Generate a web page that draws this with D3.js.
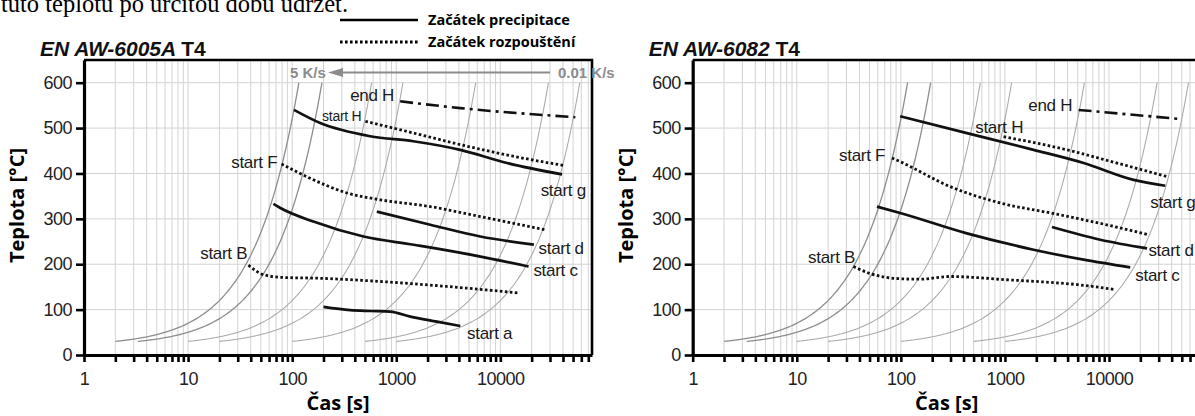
<!DOCTYPE html>
<html>
<head>
<meta charset="utf-8">
<script src="https://cdn.jsdelivr.net/npm/d3@7"></script>
<style>
  html, body { margin: 0; padding: 0; background: #fff; }
  svg { display: block; }
</style>
</head>
<body>
<svg id="chart" width="1195" height="416"></svg>
<script>
// ---- axis values ----
const tempTicks = [0, 100, 200, 300, 400, 500, 600];
const timeDecades = [1, 10, 100, 1000, 10000];
const timeTickLabels = ["1", "10", "100", "1000", "10000"];
const timeMax = 76000;
const tempMax = 650;

// ---- constant-rate cooling curves: time at 30 °C and rate in K/s ----
const coolStart = [2, 3.3, 10, 20, 100, 500, 1000];
const coolRate = [5, 3, 1, 0.5, 0.1, 0.02, 0.01];
const coolLow = 30, coolHigh = 600;

// ---- EN AW-6005A T4 : [time s, temperature °C] ----
const a05StartG = [[104, 540], [186, 511], [562, 482], [1456, 471], [4125, 452], [11600, 423], [39200, 398]];
const a05StartH = [[505, 515], [1470, 489], [4800, 460], [13300, 438], [42200, 417]];
const a05EndH = [[1090, 559], [4125, 544], [52600, 524]];
const a05StartF = [[79, 421], [160, 386], [336, 357], [702, 342], [2125, 327], [6420, 305], [27100, 276]];
const a05StartD = [[651, 316], [2125, 287], [6420, 261], [21000, 243]];
const a05StartC = [[66, 333], [77, 324], [160, 294], [485, 261], [1470, 243], [4440, 224], [18700, 195]];
const a05StartB = [[38, 198], [53, 177], [80, 171], [186, 169], [700, 162], [3070, 151], [14600, 137]];
const a05StartA = [[200, 106], [361, 99], [562, 97], [875, 95.5], [1365, 84.5], [2460, 73.5], [4125, 64]];

// ---- EN AW-6082 T4 ----
const a82StartG = [[98.5, 526], [431, 489], [1885, 452], [5700, 423], [17200, 386], [34700, 373]];
const a82StartH = [[970, 481], [3950, 452], [11900, 423], [36100, 393]];
const a82EndH = [[5100, 540], [48500, 520]];
const a82StartF = [[82, 434], [98.5, 426], [298, 371], [900, 335], [2730, 313], [8240, 290], [24000, 265]];
const a82StartD = [[2830, 282], [8240, 254], [23200, 235]];
const a82StartC = [[59, 327], [98.5, 313], [431, 268], [1885, 232], [5700, 210], [16000, 193]];
const a82StartB = [[35, 195], [50, 180], [100, 168], [150, 167], [300, 173], [500, 171], [1000, 166], [2000, 162], [5000, 155], [11500, 144]];

// ---- text ----
const headerText = "tuto teplotu po určitou dobu udržet.";
const legendLabels = ["Začátek precipitace", "Začátek rozpouštění"];
const xTitle = "Čas [s]";
const yTitle = "Teplota [°C]";

const panels = [
  {
    alloy: "EN AW-6005A", temper: "T4",
    curves: [
      { data: a05StartG, style: "solid" }, { data: a05StartH, style: "dot" },
      { data: a05EndH, style: "dashdot" }, { data: a05StartF, style: "dot" },
      { data: a05StartD, style: "solid" }, { data: a05StartC, style: "solid" },
      { data: a05StartB, style: "dot" }, { data: a05StartA, style: "solid" }
    ],
    labels: [
      { text: "start H", t: 194, T: 516, size: 14 },
      { text: "end H", t: 361, T: 560, size: 17 },
      { text: "start F", t: 72, T: 412, size: 17, anchor: "end" },
      { text: "start g", t: 24400, T: 351, size: 17 },
      { text: "start d", t: 23300, T: 223, size: 17 },
      { text: "start c", t: 20800, T: 174, size: 17 },
      { text: "start B", t: 37, T: 212, size: 17, anchor: "end" },
      { text: "start a", t: 4790, T: 35, size: 17 }
    ],
    rateNote: true
  },
  {
    alloy: "EN AW-6082", temper: "T4",
    curves: [
      { data: a82StartG, style: "solid" }, { data: a82StartH, style: "dot" },
      { data: a82EndH, style: "dashdot" }, { data: a82StartF, style: "dot" },
      { data: a82StartD, style: "solid" }, { data: a82StartC, style: "solid" },
      { data: a82StartB, style: "dot" }
    ],
    labels: [
      { text: "start F", t: 70.6, T: 428, size: 17, anchor: "end" },
      { text: "start B", t: 36.3, T: 203, size: 17, anchor: "end" },
      { text: "start H", t: 518, T: 490, size: 17 },
      { text: "end H", t: 1675, T: 538, size: 17 },
      { text: "start g", t: 24900, T: 324, size: 17 },
      { text: "start d", t: 23900, T: 218, size: 17 },
      { text: "start c", t: 17900, T: 163, size: 17 }
    ],
    rateNote: false
  }
];

// ---- layout ----
const plotLeft = [84, 692.7];
const plotTop = 60, plotH = 295, plotW = 508;
const sans = "'Liberation Sans', Arial, sans-serif";
const bold = "'Open Sans', 'DejaVu Sans', sans-serif";

const svg = d3.select("#chart");

svg.append("text")
  .attr("x", 1).attr("y", 12)
  .attr("font-family", "'Liberation Serif', 'Times New Roman', serif")
  .attr("font-size", 24.5)
  .attr("fill", "#000")
  .text(headerText);

// legend
const styleOf = {
  solid: { dash: null, width: 2.7 },
  dot: { dash: "2.6,2.4", width: 2.8 },
  dashdot: { dash: "13,5,3,5", width: 2.6 }
};
const legendG = svg.append("g");
["solid", "dot"].forEach((s, i) => {
  const yy = 20 + i * 22;
  legendG.append("line")
    .attr("x1", 340).attr("x2", 418).attr("y1", yy).attr("y2", yy)
    .attr("stroke", "#000").attr("stroke-width", styleOf[s].width)
    .attr("stroke-dasharray", styleOf[s].dash);
  legendG.append("text")
    .attr("x", 428).attr("y", yy + 5)
    .attr("font-family", bold).attr("font-weight", 700).attr("font-size", 14.5)
    .attr("fill", "#000")
    .text(legendLabels[i]);
});

const x0 = d3.scaleLog().domain([1, timeMax]).range([0, plotW]);
const y = d3.scaleLinear().domain([0, tempMax]).range([plotH, 0]);

// all 1..9 multiples inside the domain
const minorTimes = [];
timeDecades.forEach(d => { for (let m = 1; m <= 9; m++) if (m * d <= timeMax) minorTimes.push(m * d); });

panels.forEach((p, pi) => {
  const g = svg.append("g").attr("transform", `translate(${plotLeft[pi]},${plotTop})`);
  const x = x0;

  // grid
  g.append("g").selectAll("line").data(minorTimes.filter(v => v > 1)).join("line")
    .attr("x1", d => x(d)).attr("x2", d => x(d)).attr("y1", 0).attr("y2", plotH)
    .attr("stroke", "#d3d3d3").attr("stroke-width", 1);
  g.append("g").selectAll("line").data(tempTicks.filter(v => v > 0)).join("line")
    .attr("x1", 0).attr("x2", plotW).attr("y1", d => y(d)).attr("y2", d => y(d))
    .attr("stroke", "#d3d3d3").attr("stroke-width", 1);

  // cooling curves
  const coolLine = d3.line().x(d => x(d[0])).y(d => y(d[1])).curve(d3.curveMonotoneX);
  coolStart.forEach((t0, i) => {
    const r = coolRate[i];
    const span = (coolHigh - coolLow) / r;
    const pts = [[t0, coolLow]];
    for (let k = 0; k <= 120; k++) {
      const dt = span * Math.pow(10, -3 + 3 * k / 120);
      pts.push([t0 + dt, coolLow + r * dt]);
    }
    g.append("path").attr("d", coolLine(pts)).attr("fill", "none")
      .attr("stroke", i < 2 ? "#8e8e8e" : "#a9a9a9")
      .attr("stroke-width", i < 2 ? 1.3 : 1.05);
  });

  // transformation curves
  const line = d3.line().x(d => x(d[0])).y(d => y(d[1])).curve(d3.curveMonotoneX);
  p.curves.forEach(c => {
    const st = styleOf[c.style];
    g.append("path").attr("d", line(c.data)).attr("fill", "none")
      .attr("stroke", "#111").attr("stroke-width", st.width)
      .attr("stroke-dasharray", st.dash);
  });

  // curve labels
  p.labels.forEach(l => {
    g.append("text")
      .attr("x", x(l.t)).attr("y", y(l.T))
      .attr("text-anchor", l.anchor || "start")
      .attr("font-family", sans).attr("font-size", l.size)
      .attr("letter-spacing", -0.3)
      .attr("fill", "#1a1a1a")
      .text(l.text);
  });

  // frame (top / right)
  g.append("path")
    .attr("d", `M0,0H${plotW}V${plotH}`)
    .attr("fill", "none").attr("stroke", "#000").attr("stroke-width", 2.6);

  // axes
  const xAxis = d3.axisBottom(x).tickValues(minorTimes).tickSize(7).tickSizeOuter(0).tickPadding(10)
    .tickFormat(d => { const i = timeDecades.indexOf(d); return i >= 0 ? timeTickLabels[i] : ""; });
  const xg = g.append("g").attr("transform", `translate(0,${plotH})`).call(xAxis);
  const yAxis = d3.axisLeft(y).tickValues(tempTicks).tickSize(8).tickSizeOuter(0).tickPadding(4);
  const yg = g.append("g").call(yAxis);
  [xg, yg].forEach(ax => {
    ax.select(".domain").attr("stroke", "#000").attr("stroke-width", 3.2);
    ax.selectAll(".tick line").attr("stroke", "#000").attr("stroke-width", 2.6);
    ax.selectAll(".tick text").attr("font-family", sans).attr("font-size", 18)
      .attr("letter-spacing", -0.5).attr("fill", "#222");
  });

  // axis titles
  g.append("text").attr("x", plotW / 2).attr("y", 350)
    .attr("text-anchor", "middle")
    .attr("font-family", bold).attr("font-weight", 700).attr("font-size", 20)
    .attr("fill", "#000").text(xTitle);
  g.append("text")
    .attr("transform", `translate(${-60},${plotH / 2 - 2}) rotate(-90)`)
    .attr("text-anchor", "middle")
    .attr("font-family", bold).attr("font-weight", 700).attr("font-size", 20)
    .attr("fill", "#000").text(yTitle);

  // panel title
  const tt = g.append("text").attr("x", -44).attr("y", -4)
    .attr("font-family", "'Liberation Sans Narrow', 'Liberation Sans', Arial, sans-serif")
    .attr("font-weight", 700).attr("font-size", 21).attr("fill", "#111");
  tt.append("tspan").attr("font-style", "italic").text(p.alloy + " ");
  tt.append("tspan").text(p.temper);

  // cooling-rate note
  if (p.rateNote) {
    const gray = "#8c8c8c";
    g.append("text").attr("x", 206).attr("y", 18)
      .attr("font-family", sans).attr("font-weight", 700).attr("font-size", 15)
      .attr("fill", gray).text("5 K/s");
    g.append("line").attr("x1", 255).attr("x2", 466).attr("y1", 12.5).attr("y2", 12.5)
      .attr("stroke", gray).attr("stroke-width", 2);
    g.append("path").attr("d", "M244,12.5L259,8L259,17Z").attr("fill", gray);
    g.append("text").attr("x", 474).attr("y", 18)
      .attr("font-family", sans).attr("font-weight", 700).attr("font-size", 15)
      .attr("fill", gray).text("0.01 K/s");
  }
});
</script>
</body>
</html>
